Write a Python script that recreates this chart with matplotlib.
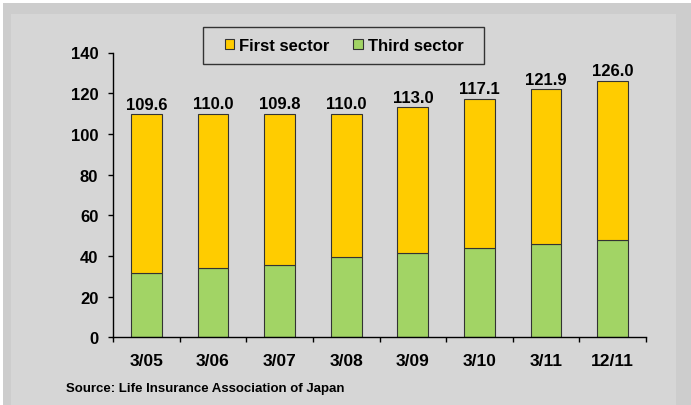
import matplotlib
matplotlib.use("Agg")
from matplotlib import pyplot as plt
from matplotlib.patches import Rectangle
import numpy as np

plt.rcParams['font.family'] = ['Liberation Sans', 'DejaVu Sans']
plt.rcParams['font.weight'] = 'bold'

# data
periods = ["3/05", "3/06", "3/07", "3/08", "3/09", "3/10", "3/11", "12/11"]
totals = [109.6, 110.0, 109.8, 110.0, 113.0, 117.1, 121.9, 126.0]
third_sector = [31.7, 34.0, 35.7, 39.3, 41.4, 43.9, 45.8, 47.8]
first_sector = [t - s for t, s in zip(totals, third_sector)]
y_ticks = [0, 20, 40, 60, 80, 100, 120, 140]

YELLOW = "#FFCC00"
GREEN = "#A2D465"
EDGE = "#333333"
PANEL = "#D6D6D6"

W, H = 691, 406
fig = plt.figure(figsize=(W / 100, H / 100), dpi=100)
fig.patch.set_facecolor("white")

# grey frame behind everything
fig.patches.append(Rectangle((3 / W, 0), 688 / W, 402 / H, transform=fig.transFigure,
                             facecolor="#CDCDCD", edgecolor="none", zorder=-2))
fig.patches.append(Rectangle((11 / W, 0), 665 / W, 391 / H, transform=fig.transFigure,
                             facecolor=PANEL, edgecolor="none", zorder=-1))

ax = fig.add_axes([113 / W, 1 - 338.3 / H, 533 / W, (338.3 - 53.5) / H])
ax.patch.set_alpha(0)

x = np.arange(len(periods))
ax.bar(x, third_sector, width=0.46, color=GREEN, edgecolor=EDGE, linewidth=0.8, label="Third sector")
ax.bar(x, first_sector, bottom=third_sector, width=0.46, color=YELLOW, edgecolor=EDGE,
       linewidth=0.8, label="First sector")

for xi, t in zip(x, totals):
    ax.text(xi, t + 1.3, f"{t:.1f}", ha="center", va="bottom", fontsize=12, fontweight="bold")

ax.set_xlim(-0.5, len(periods) - 0.5)
ax.set_ylim(0, 140)
ax.set_yticks(y_ticks)
ax.set_yticklabels([str(v) for v in y_ticks], fontweight="bold", fontsize=12)
ax.set_xticks(x)
ax.set_xticklabels(periods, fontweight="bold", fontsize=12.5)
ax.set_xticks(np.arange(-0.5, len(periods)), minor=True)

for side in ["top", "right"]:
    ax.spines[side].set_visible(False)
for side in ["left", "bottom"]:
    ax.spines[side].set_color("black")
    ax.spines[side].set_linewidth(1.0)

ax.tick_params(axis="y", length=3.6, width=1, pad=7, direction="out")
ax.tick_params(axis="x", which="major", length=0, pad=11)
ax.tick_params(axis="x", which="minor", length=3.6, width=1, direction="out")

# legend frame drawn by hand, legend itself frameless
fig.patches.append(Rectangle((203 / W, 1 - 65 / H), 281 / W, 37 / H, transform=fig.transFigure,
                             facecolor=PANEL, edgecolor=EDGE, linewidth=1.0, zorder=1))
handles, labels = ax.get_legend_handles_labels()
leg = fig.legend(handles[::-1], labels[::-1], loc="center", bbox_to_anchor=(344 / W, 1 - 46.5 / H),
                 ncol=2, frameon=False, fontsize=12, handlelength=0.55,
                 handleheight=0.6, handletextpad=0.3, columnspacing=1.45, borderpad=0.0)
leg.set_zorder(2)

fig.text(66 / W, 1 - 389 / H, "Source: Life Insurance Association of Japan",
         fontsize=9.5, fontweight="bold", va="center", ha="left")

fig.savefig("out.png", dpi=100)
